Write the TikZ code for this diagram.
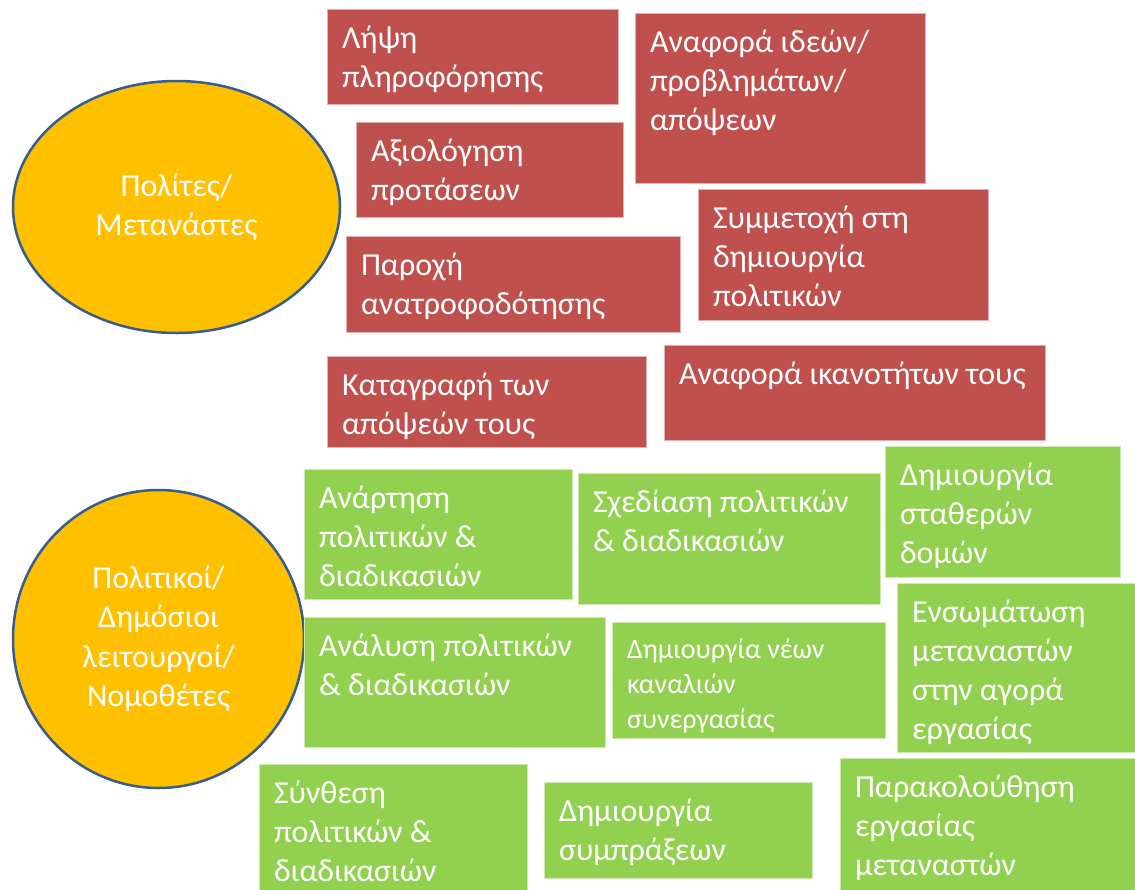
\documentclass[tikz,border=0pt]{standalone}
\usepackage{fontspec}
\setmainfont{Carlito}
\usetikzlibrary{shapes.geometric}
\definecolor{boxred}{HTML}{C0504D}
\definecolor{boxgreen}{HTML}{92D050}
\definecolor{ellfill}{HTML}{FFC000}
\definecolor{ellline}{HTML}{385D8A}
\tikzset{
  basebox/.style={rectangle, anchor=north west, inner sep=0pt, outer sep=0pt, line width=0.8pt},
  redbox/.style={basebox, fill=boxred, draw=boxred!45!white},
  greenbox/.style={basebox, fill=boxgreen, draw=boxgreen!45!white},
  boxtext/.style={anchor=north west, inner sep=0pt, outer sep=0pt, align=left, text=white, font=\fontsize{32}{39}\selectfont},
  smalltext/.style={boxtext, font=\fontsize{28}{35}\selectfont},
  actor/.style={ellipse, inner sep=0pt, fill=ellfill, draw=ellline, line width=2.5pt, align=center, text=white, font=\fontsize{32}{39.5}\selectfont}
}
% name, box style, text style, x1, y1, x2, y2, text
\newcommand\mybox[8]{%
  \node[#2, minimum width={(#6-#4)*1pt}, minimum height={(#7-#5)*1pt}] (#1) at (#4,#5) {};
  \node[#3] (#1t) at ([xshift=15pt,yshift=-17pt]#1.north west) {#8};
}
\begin{document}
\begin{tikzpicture}[x=1pt,y=-1pt]
\useasboundingbox (0,0) rectangle (1135,889);
\clip (0,0) rectangle (1135,889);
\fill[white] (0,0) rectangle (1135,889);
% actors
\node[actor, minimum width=327pt, minimum height=252pt] (cit) at (176.5,207) {Πολίτες/\\Μετανάστες};
\node[actor, minimum width=291pt, minimum height=298pt] (pol) at (158.5,639) {Πολιτικοί/\\Δημόσιοι\\λειτουργοί/\\Νομοθέτες};
% red boxes
\mybox{r1}{redbox}{boxtext}{327}{9}{618}{104}{Λήψη\\πληροφόρησης}
\mybox{r2}{redbox}{boxtext}{356}{122}{623}{217}{Αξιολόγηση\\προτάσεων}
\mybox{r3}{redbox}{boxtext}{346}{236}{680}{332}{Παροχή\\ανατροφοδότησης}
\mybox{r4}{redbox}{boxtext}{327}{356}{646}{447}{Καταγραφή των\\απόψεών τους}
\mybox{r5}{redbox}{boxtext}{635}{13}{925}{183}{Αναφορά ιδεών/\\προβλημάτων/\\απόψεων}
\mybox{r6}{redbox}{boxtext}{698}{189}{988}{320}{Συμμετοχή στη\\δημιουργία\\πολιτικών}
\mybox{r7}{redbox}{boxtext}{664}{345}{1045}{440}{Αναφορά ικανοτήτων τους}
% green boxes
\mybox{g1}{greenbox}{boxtext}{304}{469}{572}{599}{Ανάρτηση\\πολιτικών \&\\διαδικασιών}
\mybox{g2}{greenbox}{boxtext}{304}{617}{605}{747}{Ανάλυση πολιτικών\\\& διαδικασιών}
\mybox{g3}{greenbox}{boxtext}{259}{764}{527}{900}{Σύνθεση\\πολιτικών \&\\διαδικασιών}
\mybox{g4}{greenbox}{boxtext}{578}{473}{880}{604}{Σχεδίαση πολιτικών\\\& διαδικασιών}
\mybox{g5}{greenbox}{boxtext}{885}{446}{1120}{577}{Δημιουργία\\σταθερών\\δομών}
\mybox{g6}{greenbox}{smalltext}{612}{622}{885}{738}{Δημιουργία νέων\\καναλιών\\συνεργασίας}
\mybox{g7}{greenbox}{boxtext}{897}{583}{1145}{752}{Ενσωμάτωση\\μεταναστών\\στην αγορά\\εργασίας}
\mybox{g8}{greenbox}{boxtext}{544}{782}{812}{878}{Δημιουργία\\συμπράξεων}
\mybox{g9}{greenbox}{boxtext}{840}{758}{1145}{900}{Παρακολούθηση\\εργασίας\\μεταναστών}
\end{tikzpicture}
\end{document}
